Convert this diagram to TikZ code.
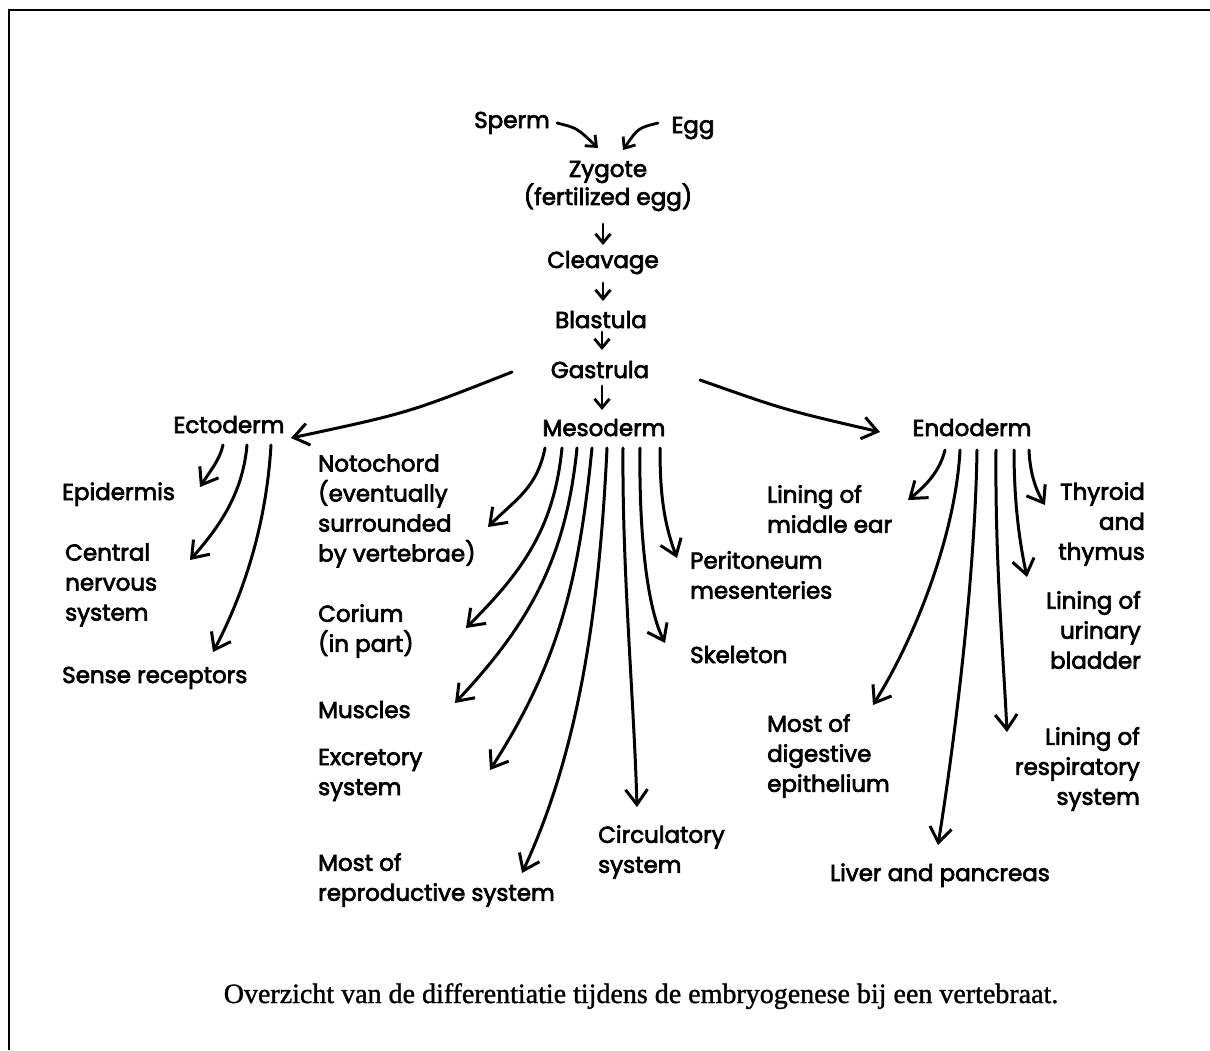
\documentclass[tikz,border=0pt]{standalone}
\usepackage{fontspec}
\setmainfont{Poppins}[FakeBold=3]
\newfontfamily\capfont{Liberation Serif}[FakeBold=1.2]
\usetikzlibrary{arrows.meta}
\begin{document}
\begin{tikzpicture}[x=1pt,y=-1pt,
  lbl/.style={font=\fontsize{23}{30}\selectfont, inner sep=0pt, align=left},
  lblr/.style={font=\fontsize{23}{30}\selectfont, inner sep=0pt, align=right},
  stage/.style={font=\fontsize{23}{28}\selectfont, inner sep=0pt, align=center},
  arr/.style={line width=3pt, line cap=round, -{Straight Barb[length=15pt,width=22pt,line width=3pt]}},
  sarr/.style={line width=2.8pt, line cap=round, -{Straight Barb[length=9pt,width=15pt,line width=2.8pt]}},
  frame/.style={line width=2pt}
]
\useasboundingbox (0,0) rectangle (1210,1050);
\draw[frame] (9,1050) -- (9,10) -- (1210,10);

% top chain
\node[stage, anchor=base] (sperm) at (512,128) {Sperm};
\node[stage, anchor=base] (egg) at (693,133) {Egg};
\node[stage] (zyg) at (608,186) {Zygote\\(fertilized egg)};
\node[stage, anchor=base] (clv) at (603,268) {Cleavage};
\node[stage, anchor=base] (bla) at (601,328) {Blastula};
\node[stage, anchor=base] (gas) at (600,378) {Gastrula};
\node[stage, anchor=base] (meso) at (604,436) {Mesoderm};
\node[stage, anchor=base] (ecto) at (229,433) {Ectoderm};
\node[stage, anchor=base] (endo) at (972,436) {Endoderm};

\draw[sarr] ([xshift=45pt,yshift=5pt]sperm.base) .. controls (577,128) .. ([xshift=-10pt,yshift=38pt]zyg.center);
\draw[sarr] ([xshift=-35pt,yshift=10pt]egg.base) .. controls (638,128) .. ([xshift=15pt,yshift=36pt]zyg.center);
\draw[sarr] ([xshift=-5pt,yshift=-38pt]zyg.center) -- ([yshift=23pt]clv.base);
\draw[sarr] ([yshift=-15pt]clv.base) -- ([xshift=2pt,yshift=27pt]bla.base);
\draw[sarr] ([xshift=1pt,yshift=-4pt]bla.base) -- ([xshift=2pt,yshift=28pt]gas.base);
\draw[sarr] ([xshift=2pt,yshift=-8pt]gas.base) -- ([xshift=-2pt,yshift=26pt]meso.base);

\draw[arr] ([xshift=-88pt,yshift=6pt]gas.base) .. controls (408,413) .. ([xshift=62pt,yshift=-5pt]ecto.base);
\draw[arr] ([xshift=100pt,yshift=-2pt]gas.base) .. controls (785,410) .. ([xshift=-92pt,yshift=4pt]endo.base);

% Ectoderm derivatives
\node[lbl, anchor=base west] (epi) at (62,500) {Epidermis};
\node[lbl, anchor=west] (cns) at (65,585) {Central\\nervous\\system};
\node[lbl, anchor=base west] (sense) at (62,683) {Sense receptors};
\coordinate (e1) at (200,487);
\coordinate (e2) at (190,560);
\coordinate (e3) at (213,652);
\draw[arr] ([xshift=-6pt,yshift=-12pt]ecto.base) .. controls (220,460) and (208,474) .. (e1);
\draw[arr] ([xshift=18pt,yshift=-12pt]ecto.base) .. controls (243,490) and (223,523) .. (e2);
\draw[arr] ([xshift=42pt,yshift=-12pt]ecto.base) .. controls (266,530) and (241,599) .. (e3);

% Mesoderm derivatives
\node[lbl, anchor=west] (noto) at (318,511) {Notochord\\(eventually\\surrounded\\by vertebrae)};
\node[lbl, anchor=west] (cor) at (318,631) {Corium\\(in part)};
\node[lbl, anchor=base west] (mus) at (318,718) {Muscles};
\node[lbl, anchor=west] (exc) at (318,775) {Excretory\\system};
\node[lbl, anchor=west] (rep) at (318,880) {Most of\\reproductive system};
\node[lbl, anchor=west] (circ) at (598,852) {Circulatory\\system};
\node[lbl, anchor=west] (peri) at (690,575) {Peritoneum\\mesenteries};
\node[lbl, anchor=base west] (skel) at (690,663) {Skeleton};
\coordinate (m1) at (488,527);
\coordinate (m2) at (466,628);
\coordinate (m3) at (455,703);
\coordinate (m4) at (490,770);
\coordinate (m5) at (522,873);
\coordinate (m6) at (637,807);
\coordinate (m7) at (665,643);
\coordinate (m8) at (677,558);
\draw[arr] ([xshift=-59pt,yshift=-12pt]meso.base) .. controls (537,488) and (516,499) .. (m1);
\draw[arr] ([xshift=-42pt,yshift=-12pt]meso.base) .. controls (554,528) and (523,571) .. (m2);
\draw[arr] ([xshift=-27pt,yshift=-12pt]meso.base) .. controls (566,558) and (530,623) .. (m3);
\draw[arr] ([xshift=-12pt,yshift=-12pt]meso.base) .. controls (579,578) and (560,661) .. (m4);
\draw[arr] ([xshift=3pt,yshift=-12pt]meso.base) .. controls (599,618) and (577,755) .. (m5);
\draw[arr] ([xshift=19pt,yshift=-12pt]meso.base) .. controls (622,570) and (634,700) .. (m6);
\draw[arr] ([xshift=36pt,yshift=-12pt]meso.base) .. controls (639,520) and (645,603) .. (m7);
\draw[arr] ([xshift=56pt,yshift=-12pt]meso.base) .. controls (660,490) and (663,521) .. (m8);

% Endoderm derivatives
\node[lbl, anchor=west] (ear) at (767,509) {Lining of\\middle ear};
\node[lblr, anchor=east] (thy) at (1145,524) {Thyroid\\and\\thymus};
\node[lblr, anchor=east] (uri) at (1141,630) {Lining of\\urinary\\bladder};
\node[lbl, anchor=west] (dig) at (767,756) {Most of\\digestive\\epithelium};
\node[lblr, anchor=east] (resp) at (1140,769) {Lining of\\respiratory\\system};
\node[lbl, anchor=base] (liv) at (940,881) {Liver and pancreas};
\coordinate (n1) at (908,500);
\coordinate (n2) at (873,705);
\coordinate (n3) at (938,845);
\coordinate (n4) at (1007,732);
\coordinate (n5) at (1027,577);
\coordinate (n6) at (1045,505);
\draw[arr] ([xshift=-27pt,yshift=-14pt]endo.base) .. controls (940,470) and (928,484) .. (n1);
\draw[arr] ([xshift=-12pt,yshift=-14pt]endo.base) .. controls (956,530) and (918,633) .. (n2);
\draw[arr] ([xshift=5pt,yshift=-14pt]endo.base) .. controls (975,580) and (954,745) .. (n3);
\draw[arr] ([xshift=24pt,yshift=-14pt]endo.base) .. controls (995,560) and (1003,650) .. (n4);
\draw[arr] ([xshift=42pt,yshift=-14pt]endo.base) .. controls (1014,500) and (1019,540) .. (n5);
\draw[arr] ([xshift=57pt,yshift=-14pt]endo.base) .. controls (1030,475) and (1037,492) .. (n6);

% caption
\node[anchor=base, inner sep=0pt, font=\capfont\fontsize{28}{32}\selectfont] (cap) at (641,1003) {Overzicht van de differentiatie tijdens de embryogenese bij een vertebraat.};
\end{tikzpicture}
\end{document}
